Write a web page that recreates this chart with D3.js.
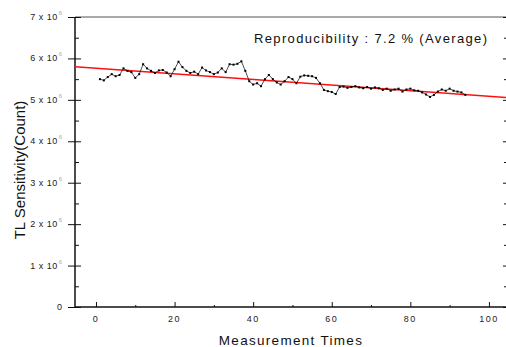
<!DOCTYPE html>
<html>
<head>
<meta charset="utf-8">
<script src="https://cdn.jsdelivr.net/npm/d3@7"></script>
<style>
  body { margin: 0; background: #fff; }
  svg { display: block; font-family: "Liberation Sans", Arial, sans-serif; }
</style>
</head>
<body>
<div id="plot"></div>
<script>
// Measurement index and TL sensitivity (in units of 1e6 counts)
const measurementTimes = d3.range(1, 95);
const sensitivity = [
  5.50, 5.47, 5.55, 5.62, 5.57, 5.60, 5.76, 5.70, 5.67, 5.53,
  5.62, 5.86, 5.76, 5.70, 5.65, 5.71, 5.72, 5.66, 5.57, 5.74,
  5.92, 5.79, 5.70, 5.65, 5.68, 5.62, 5.78, 5.71, 5.67, 5.62,
  5.66, 5.76, 5.67, 5.86, 5.85, 5.87, 5.93, 5.70, 5.45, 5.37,
  5.40, 5.33, 5.50, 5.60, 5.50, 5.42, 5.37, 5.45, 5.55, 5.50,
  5.40, 5.56, 5.59, 5.58, 5.57, 5.53, 5.40, 5.24, 5.21, 5.19,
  5.14, 5.31, 5.32, 5.29, 5.31, 5.33, 5.30, 5.28, 5.31, 5.27,
  5.30, 5.28, 5.24, 5.27, 5.22, 5.25, 5.27, 5.20, 5.25, 5.27,
  5.23, 5.22, 5.18, 5.13, 5.07, 5.12, 5.20, 5.25, 5.22, 5.27,
  5.22, 5.20, 5.18, 5.12
];
// Linear fit line endpoints (x, value)
const fitX = [-5.3, 104.6];
const fitY = [5.80, 5.058];

const xTicks = [0, 20, 40, 60, 80, 100];
const xMinorTicks = [10, 30, 50, 70, 90];
const yTicks = [0, 1, 2, 3, 4, 5, 6, 7];
const yMinorTicks = [0.5, 1.5, 2.5, 3.5, 4.5, 5.5, 6.5];
const annotation = "Reproducibility : 7.2 % (Average)";

const width = 506;
const height = 347;
const margin = { top: 17, right: -1, bottom: 40, left: 75 };

const svg = d3.select("#plot")
  .append("svg")
  .attr("width", width)
  .attr("height", height);

const x = d3.scaleLinear()
  .domain([-5.34, 104.6])
  .range([margin.left, width - margin.right]);

const y = d3.scaleLinear()
  .domain([0, 7])
  .range([height - margin.bottom, margin.top]);

const x0 = margin.left, x1 = width - margin.right;
const y0 = height - margin.bottom, y1 = margin.top;

// Top frame
svg.append("line")
  .attr("x1", x0).attr("x2", x1).attr("y1", y1).attr("y2", y1)
  .attr("stroke", "#555").attr("stroke-width", 1);

// Left axis: major ticks crossing, minor ticks inside
svg.append("g")
  .attr("transform", `translate(${x0},0)`)
  .call(d3.axisLeft(y).tickValues(yTicks).tickSize(7).tickFormat(""))
  .call(g => g.select(".domain").remove());
svg.append("g")
  .attr("transform", `translate(${x0},0)`)
  .call(d3.axisRight(y).tickValues(yTicks).tickSize(6).tickFormat(""))
  .call(g => g.select(".domain").remove());
svg.append("g")
  .attr("transform", `translate(${x0},0)`)
  .call(d3.axisRight(y).tickValues(yMinorTicks).tickSize(4).tickFormat(""))
  .call(g => g.select(".domain").remove());

// Right axis ticks (inside)
svg.append("g")
  .attr("transform", `translate(${x1},0)`)
  .call(d3.axisLeft(y).tickValues(yTicks).tickSize(4).tickFormat(""))
  .call(g => g.select(".domain").remove());
svg.append("g")
  .attr("transform", `translate(${x1},0)`)
  .call(d3.axisLeft(y).tickValues(yMinorTicks).tickSize(3).tickFormat(""))
  .call(g => g.select(".domain").remove());

// Bottom axis: ticks pointing up
svg.append("g")
  .attr("transform", `translate(0,${y0})`)
  .call(d3.axisTop(x).tickValues(xTicks).tickSize(5).tickFormat(""))
  .call(g => g.select(".domain").remove());
svg.append("g")
  .attr("transform", `translate(0,${y0})`)
  .call(d3.axisTop(x).tickValues(xMinorTicks).tickSize(2).tickFormat(""))
  .call(g => g.select(".domain").remove());

svg.selectAll(".tick line").attr("stroke", "#111").attr("stroke-width", 1);

// Axis lines
svg.append("line")
  .attr("x1", x0).attr("x2", x0).attr("y1", y1).attr("y2", y0)
  .attr("stroke", "#111").attr("stroke-width", 1.5);
svg.append("line")
  .attr("x1", x0).attr("x2", x1).attr("y1", y0).attr("y2", y0)
  .attr("stroke", "#111").attr("stroke-width", 1.5);

// Y tick labels with superscript exponent
const yLab = svg.append("g").selectAll("text")
  .data(yTicks)
  .enter()
  .append("text")
  .attr("x", x0 - 13)
  .attr("y", d => y(d) + 3)
  .attr("text-anchor", "end")
  .attr("font-size", 9)
  .attr("fill", "#222");
yLab.filter(d => d === 0).text("0");
yLab.filter(d => d !== 0).each(function(d) {
  const t = d3.select(this);
  t.append("tspan").attr("letter-spacing", 0.5).text(`${d} x 10`);
  t.append("tspan")
    .attr("dx", 1).attr("dy", -5)
    .attr("font-size", 6).attr("fill", "#aaa")
    .text("6");
});

// X tick labels
svg.append("g").selectAll("text")
  .data(xTicks)
  .enter()
  .append("text")
  .attr("x", d => x(d))
  .attr("y", y0 + 15)
  .attr("text-anchor", "middle")
  .attr("font-size", 9)
  .attr("letter-spacing", 1.5)
  .attr("fill", "#222")
  .text(d => d);

// Fit line
svg.append("line")
  .attr("x1", x(fitX[0])).attr("y1", y(fitY[0]))
  .attr("x2", x(fitX[1])).attr("y2", y(fitY[1]))
  .attr("stroke", "#ff1010").attr("stroke-width", 1.5);

// Data line and markers
const points = measurementTimes.map((t, i) => ({ t, v: sensitivity[i] }));
svg.append("path")
  .datum(points)
  .attr("fill", "none")
  .attr("stroke", "#000")
  .attr("stroke-width", 0.7)
  .attr("d", d3.line().x(d => x(d.t)).y(d => y(d.v)));
svg.append("g").selectAll("rect")
  .data(points)
  .enter()
  .append("rect")
  .attr("x", d => x(d.t) - 1)
  .attr("y", d => y(d.v) - 1)
  .attr("width", 2)
  .attr("height", 2)
  .attr("fill", "#000");

// Annotation
svg.append("text")
  .attr("x", 254)
  .attr("y", 43)
  .attr("font-size", 13)
  .attr("letter-spacing", 1.35)
  .attr("fill", "#111")
  .text(annotation);

// Axis titles
svg.append("text")
  .attr("x", 291)
  .attr("y", 345)
  .attr("text-anchor", "middle")
  .attr("font-size", 13.5)
  .attr("letter-spacing", 1.3)
  .attr("fill", "#111")
  .text("Measurement Times");

svg.append("text")
  .attr("transform", "rotate(-90)")
  .attr("x", -170)
  .attr("y", 25)
  .attr("text-anchor", "middle")
  .attr("font-size", 15)
  .attr("fill", "#111")
  .text("TL Sensitivity(Count)");
</script>
</body>
</html>
